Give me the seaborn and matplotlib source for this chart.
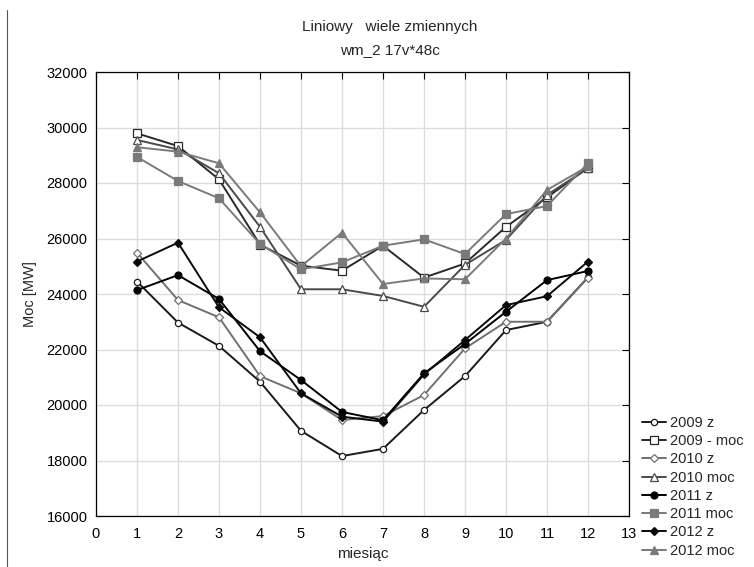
import matplotlib
matplotlib.use("Agg")
import matplotlib.pyplot as plt
import seaborn as sns
import pandas as pd

sns.set_theme(style="white")
plt.rcParams['font.family'] = ['Liberation Sans', 'DejaVu Sans']

months = [1, 2, 3, 4, 5, 6, 7, 8, 9, 10, 11, 12]

s2009_z   = [24450, 22970, 22130, 20840, 19070, 18160, 18420, 19820, 21040, 22700, 23000, 24600]
s2009_moc = [29790, 29330, 28130, 25780, 25020, 24840, 25740, 24590, 25100, 26420, 27480, 28550]
s2010_z   = [25490, 23780, 23160, 21040, 20420, 19460, 19600, 20360, 22040, 23000, 23000, 24590]
s2010_moc = [29550, 29210, 28350, 26420, 24170, 24170, 23930, 23540, 25050, 25950, 27570, 28530]
s2011_z   = [24140, 24680, 23820, 21940, 20900, 19750, 19450, 21140, 22200, 23360, 24500, 24830]
s2011_moc = [28940, 28070, 27450, 25800, 24890, 25140, 25740, 25970, 25440, 26880, 27170, 28710]
s2012_z   = [25170, 25850, 23520, 22440, 20420, 19580, 19400, 21100, 22340, 23600, 23920, 25170]
s2012_moc = [29290, 29130, 28710, 26940, 25000, 26210, 24360, 24560, 24530, 26000, 27750, 28600]

labels = ["2009 z", "2009 - moc", "2010 z", "2010 moc", "2011 z", "2011 moc", "2012 z", "2012 moc"]
series = [s2009_z, s2009_moc, s2010_z, s2010_moc, s2011_z, s2011_moc, s2012_z, s2012_moc]

colors  = ["#1a1a1a", "#2a2a2a", "#707070", "#4a4a4a", "#000000", "#7a7a7a", "#0a0a0a", "#7a7a7a"]
markers = ["o", "s", "D", "^", "o", "s", "D", "^"]
filled  = [False, False, False, False, True, True, True, True]
msizes  = [4.5, 6, 4.5, 5.5, 5, 6, 4.5, 6]

fig = plt.figure(figsize=(7.54, 5.67), dpi=100)
ax = fig.add_axes([96/754, 1-516/567, (629-96)/754, (516-72)/567])
ax.set_facecolor("white")

for lab, vals, c, m, f, ms in zip(labels, series, colors, markers, filled, msizes):
    df = pd.DataFrame({"miesiac": months, "moc": vals})
    sns.lineplot(data=df, x="miesiac", y="moc", ax=ax, color=c, marker=m,
                 markersize=ms, markerfacecolor=(c if f else "white"),
                 markeredgecolor=c, markeredgewidth=0.9, linewidth=1.4,
                 label=lab, legend=False)

ax.set_xlim(0, 13)
ax.set_ylim(16000, 32000)
ax.set_xticks(range(0, 14))
ax.set_yticks(range(16000, 32001, 2000))
ax.grid(True, color="#dcdcdc", linewidth=1.0)
ax.set_axisbelow(True)
ax.tick_params(direction="in", length=5, width=0.8, top=True, right=True,
               labelsize=10.5, colors="black")
ax.tick_params(axis="x", pad=8)
ax.tick_params(axis="y", pad=6)
for sp in ax.spines.values():
    sp.set_color("black")
    sp.set_linewidth(0.9)

ax.set_xlabel("miesiąc", fontsize=11, labelpad=4)
ax.set_ylabel("Moc [MW]", fontsize=10.5, labelpad=7)

fig.text(390/754, 1-27/567, "Liniowy   wiele zmiennych", ha="center", va="center", fontsize=11)
fig.text(390/754, 1-50/567, "wm_2 17v*48c", ha="center", va="center", fontsize=11)

# left border line
fig.add_artist(plt.Line2D([7/754, 7/754], [0, 1-10/567], color="#555555", linewidth=0.8,
                          transform=fig.transFigure))

handles, labs = ax.get_legend_handles_labels()
leg = fig.legend(handles, labs, loc="upper left", bbox_to_anchor=(642/754, 1-416/567),
                 frameon=False, fontsize=10.5, handlelength=1.65, handletextpad=0.3,
                 labelspacing=0.29, borderpad=0, borderaxespad=0)

fig.savefig("out.png", dpi=100, facecolor="white")
